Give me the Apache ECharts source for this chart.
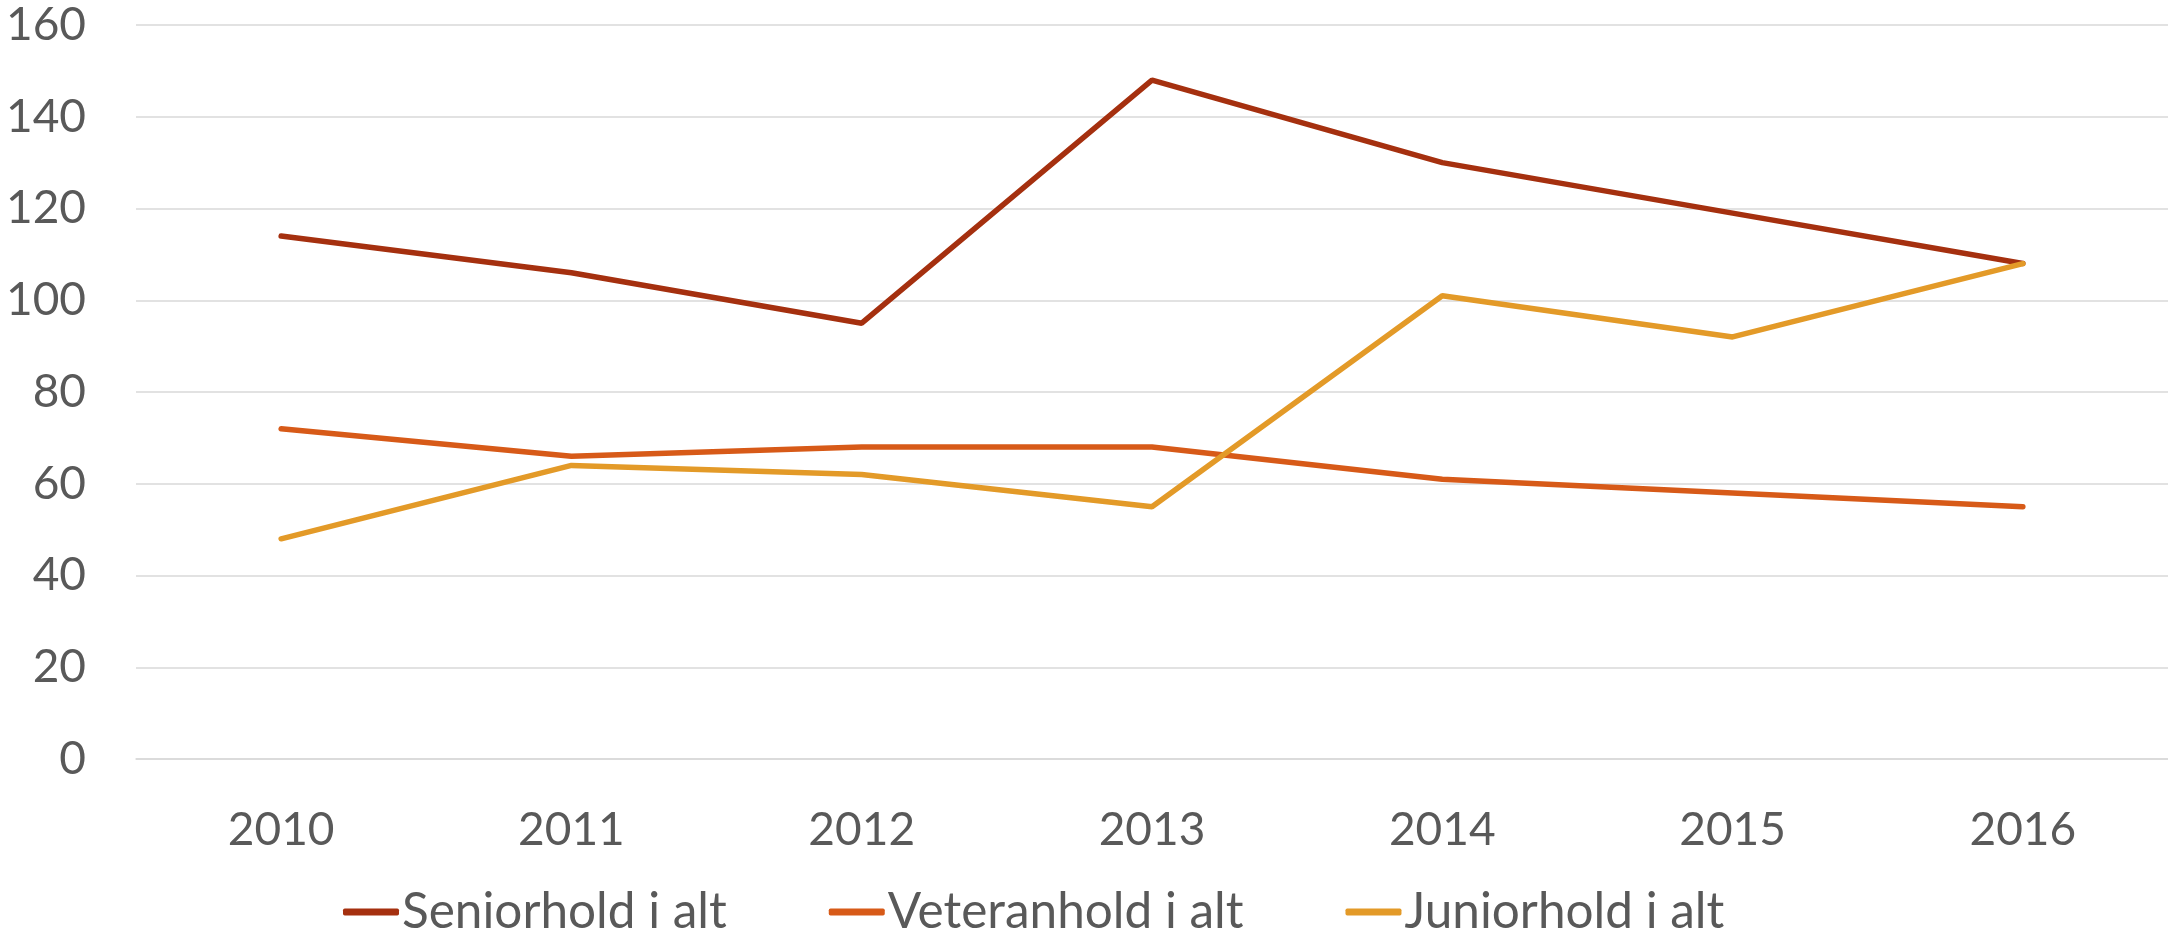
<!DOCTYPE html>
<html>
<head>
    <meta charset="utf-8">
    <title>Hold</title>
    <script src="https://cdn.jsdelivr.net/npm/echarts@6/dist/echarts.min.js"></script>
    <style>
        html, body { margin: 0; padding: 0; background: #fff; }
        #main { width: 2168px; height: 933px; }
    </style>
</head>
<body>
<div id="main"></div>
<script>
    var years = ['2010', '2011', '2012', '2013', '2014', '2015', '2016'];
    var seniorhold = [114, 106, 95, 148, 130, 119, 108];
    var veteranhold = [72, 66, 68, 68, 61, 58, 55];
    var juniorhold = [48, 64, 62, 55, 101, 92, 108];
    var yTicks = { min: 0, max: 160, step: 20 };

    var fontFam = 'Lato, "Open Sans", sans-serif';
    var chart = echarts.init(document.getElementById('main'));
    chart.setOption({
        animation: false,
        grid: { left: 136, right: 0, top: 25, bottom: 174 },
        legend: {
            left: 338,
            top: 882,
            itemWidth: 56,
            itemHeight: 7,
            itemGap: 102,
            icon: 'roundRect',
            textStyle: { color: '#595959', fontSize: 49.5, fontFamily: fontFam, padding: [0, 0, 0, -2] },
            data: ['Seniorhold i alt', 'Veteranhold i alt', 'Juniorhold i alt']
        },
        xAxis: {
            type: 'category',
            data: years,
            axisLine: { lineStyle: { color: '#d9d9d9', width: 1.5 } },
            axisTick: { show: false },
            axisLabel: { color: '#595959', fontSize: 46, fontFamily: fontFam, margin: 48 }
        },
        yAxis: {
            type: 'value',
            min: yTicks.min,
            max: yTicks.max,
            interval: yTicks.step,
            axisLine: { show: false },
            axisTick: { show: false },
            splitLine: { lineStyle: { color: '#d9d9d9', width: 1.5 } },
            axisLabel: { color: '#595959', fontSize: 46, fontFamily: fontFam, margin: 50 }
        },
        series: [
            {
                name: 'Seniorhold i alt',
                type: 'line',
                data: seniorhold,
                symbol: 'none',
                itemStyle: { color: '#a5300f' },
                lineStyle: { color: '#a5300f', width: 5.5, cap: 'round' }
            },
            {
                name: 'Veteranhold i alt',
                type: 'line',
                data: veteranhold,
                symbol: 'none',
                itemStyle: { color: '#d75a18' },
                lineStyle: { color: '#d75a18', width: 5.5, cap: 'round' }
            },
            {
                name: 'Juniorhold i alt',
                type: 'line',
                data: juniorhold,
                symbol: 'none',
                itemStyle: { color: '#e39a28' },
                lineStyle: { color: '#e39a28', width: 5.5, cap: 'round' }
            }
        ]
    });
</script>
</body>
</html>
